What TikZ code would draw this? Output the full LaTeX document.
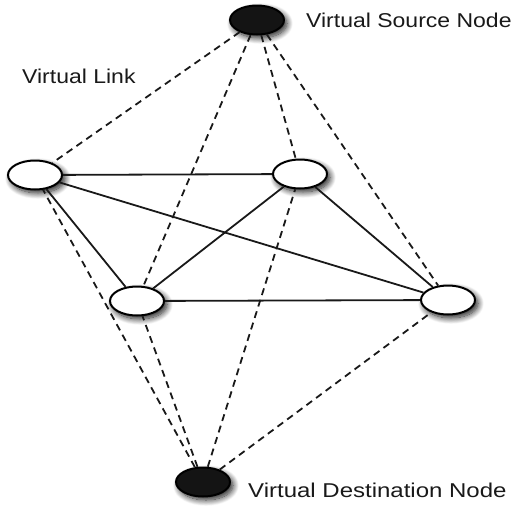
\documentclass[tikz,border=0pt]{standalone}
\usepackage{fontspec}
\setmainfont{Liberation Sans}
\usetikzlibrary{shapes.geometric,shadows.blur}
\tikzset{
  vnode/.style={ellipse, draw=black, line width=2pt, minimum width=54pt, minimum height=29pt, inner sep=0pt,
    blur shadow={shadow xshift=3pt, shadow yshift=-3.5pt, shadow blur steps=14, shadow blur radius=6pt, shadow opacity=90}},
  wnode/.style={vnode, fill=white},
  bnode/.style={vnode, fill=black!92},
  solidlink/.style={line width=1.8pt, draw=black!90},
  dashlink/.style={line width=1.8pt, draw=black!90, dash pattern=on 7pt off 5pt},
  lbl/.style={font=\fontsize{20}{24}\selectfont, text=black!90, inner sep=0pt}
}
\newcommand{\wide}[1]{\scalebox{1.15}[1]{#1}}
\begin{document}
\begin{tikzpicture}[x=1pt,y=-1pt]
\useasboundingbox (0,0) rectangle (519,509);
\node[bnode] (s) at (257,20) {};
\node[wnode] (l) at (35,175) {};
\node[wnode] (u) at (300,174) {};
\node[wnode] (m) at (137,301) {};
\node[wnode] (r) at (448,300) {};
\node[bnode] (d) at (203,482) {};
\node[lbl, anchor=base west] (ts) at (306,27) {\wide{Virtual Source Node}};
\node[lbl, anchor=base west] (tl) at (22,83) {\wide{Virtual Link}};
\node[lbl, anchor=base west] (td) at (248,497) {\scalebox{1.2}[1]{Virtual Destination Node}};
\draw[solidlink] (l) -- (u);
\draw[solidlink] (l) -- (m);
\draw[solidlink] (l) -- (r);
\draw[solidlink] (u) -- (m);
\draw[solidlink] (u) -- (r);
\draw[solidlink] (m) -- (r);
\draw[dashlink] (s) -- (l);
\draw[dashlink] (s) -- (m);
\draw[dashlink] (s) -- (u);
\draw[dashlink] (s) -- (r);
\draw[dashlink] (d) -- (l);
\draw[dashlink] (d) -- (m);
\draw[dashlink] (d) -- (u);
\draw[dashlink] (d) -- (r);
\end{tikzpicture}
\end{document}
